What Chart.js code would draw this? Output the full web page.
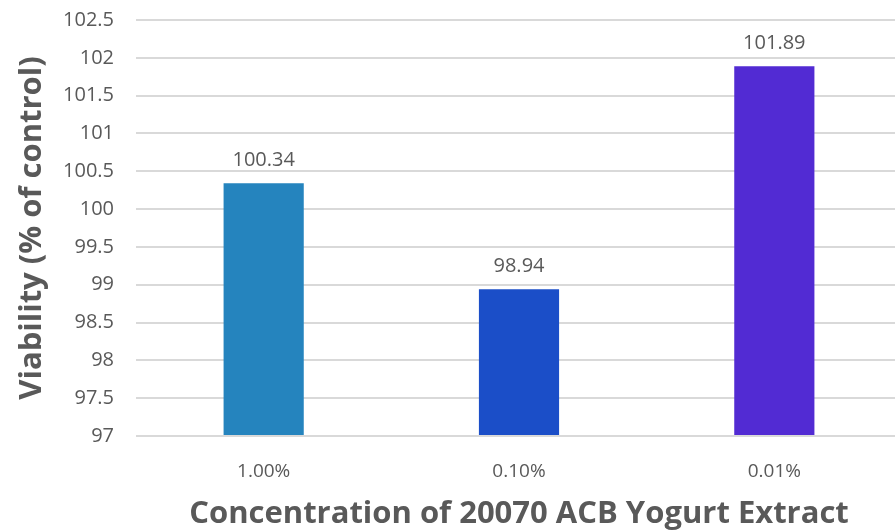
<!DOCTYPE html>
<html>
<head>
<meta charset="utf-8">
<script src="https://cdn.jsdelivr.net/npm/chart.js@4"></script>
<style>
  html, body { margin: 0; padding: 0; background: #fff; overflow: hidden; }
  #wrap { width: 902px; height: 530px; }
</style>
</head>
<body>
<div id="wrap"><canvas id="chart"></canvas></div>
<script>
// DATA
const concentrations = ["1.00%", "0.10%", "0.01%"];
const viability = [100.34, 98.94, 101.89];
const barColors = ["#2584BE", "#1B4EC8", "#522BD3"];

const textGrey = "#595959";

// value labels above each bar (no datalabels plugin available)
const valueLabels = {
    id: "valueLabels",
    afterDatasetsDraw(chart) {
        const { ctx } = chart;
        const meta = chart.getDatasetMeta(0);
        ctx.save();
        ctx.font = "20px 'Open Sans'";
        ctx.fillStyle = textGrey;
        ctx.textAlign = "center";
        ctx.textBaseline = "bottom";
        meta.data.forEach((bar, i) => {
            ctx.fillText(viability[i].toFixed(2), bar.x, bar.y - 13);
        });
        ctx.restore();
    },
};

const chart = new Chart(document.getElementById("chart"), {
    type: "bar",
    data: {
        labels: concentrations,
        datasets: [{
            data: viability,
            backgroundColor: barColors,
            categoryPercentage: 1,
            barPercentage: 0.314,
            base: 97,
        }],
    },
    options: {
        responsive: true,
        maintainAspectRatio: false,
        animation: false,
        layout: { padding: { top: 20, right: 0, left: 0, bottom: 0 } },
        plugins: {
            legend: { display: false },
            tooltip: { enabled: false },
        },
        scales: {
            x: {
                grid: { display: false },
                border: { display: false },
                ticks: {
                    color: textGrey,
                    font: { family: "Open Sans", size: 19 },
                    padding: 16,
                },
                title: {
                    display: true,
                    text: "Concentration of 20070 ACB Yogurt Extract",
                    color: textGrey,
                    font: { family: "Open Sans", size: 31, weight: "bold" },
                    padding: { top: 0, bottom: -3 },
                },
                afterFit(scale) { scale.height = 94; },
            },
            y: {
                min: 97,
                max: 102.5,
                ticks: {
                    stepSize: 0.5,
                    color: textGrey,
                    font: { family: "Open Sans", size: 20 },
                    padding: 0,
                    callback: (v) => String(v),
                },
                grid: {
                    color: "#d9d9d9",
                    lineWidth: 2,
                    drawTicks: true,
                    tickLength: 22,
                    tickColor: "rgba(0,0,0,0)",
                },
                border: { display: false },
                title: {
                    display: true,
                    text: "Viability (% of control)",
                    color: textGrey,
                    font: { family: "Open Sans", size: 31, weight: "bold" },
                    padding: { top: 14, bottom: 0 },
                },
                afterFit(scale) { scale.width = 136; },
            },
        },
    },
    plugins: [valueLabels],
});
</script>
</body>
</html>
